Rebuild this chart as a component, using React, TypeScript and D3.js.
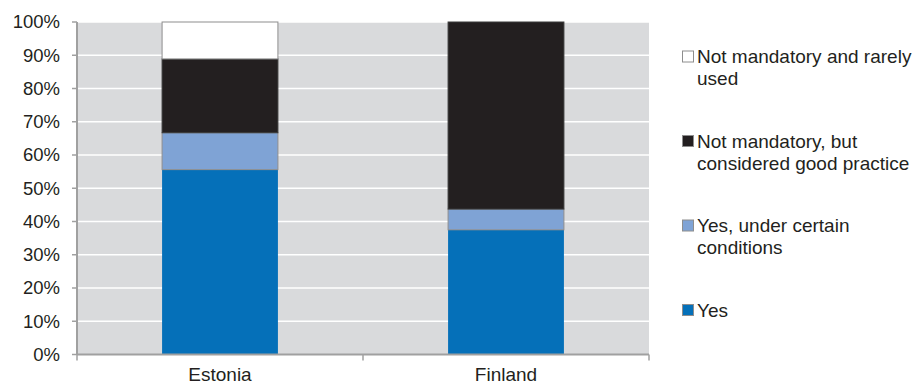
import React from "react";
import * as d3 from "d3";

const categories = ["Estonia", "Finland"];
const seriesNames = [
  "Yes",
  "Yes, under certain conditions",
  "Not mandatory, but considered good practice",
  "Not mandatory and rarely used",
];
const yesValues = [55.6, 37.5];
const conditionalValues = [11.1, 6.25];
const goodPracticeValues = [22.2, 56.25];
const rarelyValues = [11.1, 0];
const yTicks = [0, 10, 20, 30, 40, 50, 60, 70, 80, 90, 100];
const legendLines = [
  ["Not mandatory and rarely", "used"],
  ["Not mandatory, but", "considered good practice"],
  ["Yes, under certain", "conditions"],
  ["Yes"],
];

const colors = ["#0570B9", "#7FA3D5", "#231F20", "#FFFFFF"];

export default function App() {
  const W = 919,
    H = 387;
  const left = 77,
    right = 649,
    top = 22,
    bottom = 354.5;
  const font = "'Liberation Sans', Arial, sans-serif";

  const x = d3.scaleBand<string>().domain(categories).range([left, right]).padding(0);
  const y = d3.scaleLinear().domain([0, 100]).range([bottom, top]);
  const barW = x.bandwidth() * 0.405;

  const table = categories.map((c, i) => ({
    cat: c,
    s0: yesValues[i],
    s1: conditionalValues[i],
    s2: goodPracticeValues[i],
    s3: rarelyValues[i],
  }));
  const stack = d3.stack<any>().keys(["s0", "s1", "s2", "s3"]);
  const layers = stack(table);

  const legendOrder = [3, 2, 1, 0];
  const legendY0 = 63;
  const legendStep = 84.5;

  return (
    <svg width={W} height={H} style={{ position: "absolute", left: 0, top: 0 }} fontFamily={font}>
      <rect x={left} y={top} width={right - left} height={bottom - top} fill="#D9DADC" />
      {yTicks.slice(1).map((t) => (
        <line key={t} x1={left} x2={right} y1={y(t)} y2={y(t)} stroke="#FFFFFF" strokeWidth={1.5} />
      ))}
      {layers.map((layer, li) =>
        layer.map((d, i) => {
          const h = y(d[0]) - y(d[1]);
          if (h <= 0) return null;
          const cx = x(categories[i])! + x.bandwidth() / 2;
          return (
            <rect
              key={`${li}-${i}`}
              x={cx - barW / 2}
              y={y(d[1])}
              width={barW}
              height={h}
              fill={colors[li]}
              stroke={li === 0 ? "none" : li === 2 ? "#3a3a3a" : "#8E8E8E"}
              strokeWidth={li === 0 ? 0 : 1}
            />
          );
        })
      )}
      {/* axes */}
      <line x1={left} x2={left} y1={top} y2={bottom} stroke="#A0A0A0" strokeWidth={2} />
      <line x1={left} x2={right} y1={bottom} y2={bottom} stroke="#A0A0A0" strokeWidth={2} />
      {yTicks.map((t) => (
        <g key={t}>
          <line x1={left - 5} x2={left} y1={y(t)} y2={y(t)} stroke="#A0A0A0" strokeWidth={1.5} />
          <text x={60} y={y(t)} dy="0.35em" textAnchor="end" fontSize={18.5} fill="#231F20">
            {t}%
          </text>
        </g>
      ))}
      {[left, left + x.bandwidth(), right].map((tx, i) => (
        <line key={i} x1={tx} x2={tx} y1={bottom} y2={bottom + 6} stroke="#A0A0A0" strokeWidth={1.5} />
      ))}
      {categories.map((c) => (
        <text
          key={c}
          x={x(c)! + x.bandwidth() / 2}
          y={381}
          textAnchor="middle"
          fontSize={19}
          fill="#231F20"
        >
          {c}
        </text>
      ))}
      {/* legend */}
      {legendOrder.map((si, k) => {
        const by = legendY0 + k * legendStep;
        return (
          <g key={si}>
            <rect
              x={682.5}
              y={by - 12}
              width={11}
              height={11}
              fill={colors[si]}
              stroke="#8E8E8E"
              strokeWidth={1}
            />
            <text x={697} y={by} fontSize={19} fill="#231F20">
              {legendLines[k].map((ln, j) => (
                <tspan key={j} x={697} y={by + j * 22}>
                  {ln}
                </tspan>
              ))}
            </text>
          </g>
        );
      })}
    </svg>
  );
}
